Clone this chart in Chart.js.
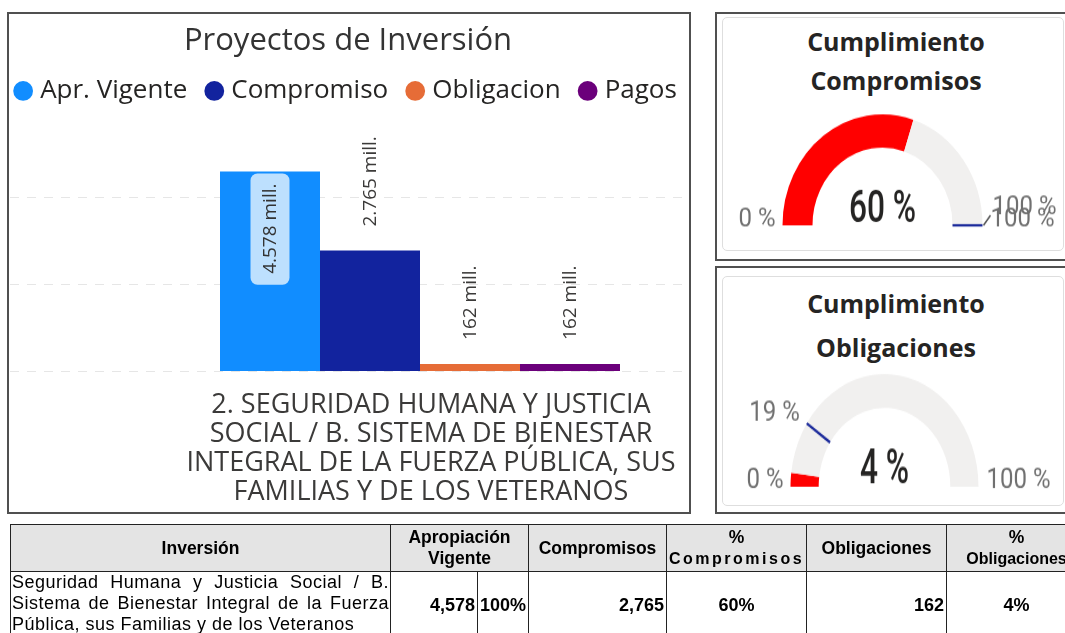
<!DOCTYPE html>
<html lang="es">
<head>
<meta charset="utf-8">
<title>Proyectos de Inversión</title>
<script src="https://cdn.jsdelivr.net/npm/chart.js@4.4.1/dist/chart.umd.min.js"></script>
<style>
  html, body { margin: 0; padding: 0; background: #fff; }
  body { position: relative; width: 1065px; height: 633px; overflow: hidden; font-family: 'Open Sans', sans-serif; }
  .marco { position: absolute; box-sizing: border-box; border: 2px solid #505050; }
  #marcoBarras { left: 7px; top: 12px; width: 684px; height: 502px; }
  #marcoComp { left: 715px; top: 12px; width: 370px; height: 249px; }
  #marcoObl { left: 715px; top: 266px; width: 370px; height: 248px; }
  .tarjeta { position: absolute; box-sizing: border-box; border: 1px solid #dedede; border-radius: 5px; background: #fff; }
  #tarjetaComp { left: 722px; top: 17px; width: 342px; height: 234px; }
  #tarjetaObl { left: 722px; top: 276px; width: 342px; height: 230px; }
  .tituloMedidor { position: absolute; left: 722px; width: 348px; text-align: center; font-weight: 700; font-size: 25px; color: #252423; }
  #tituloComp { top: 22px; line-height: 39px; }
  #tituloObl { top: 281px; line-height: 44px; }
  .caja { position: absolute; transform-origin: 0 0; }
  .caja canvas { display: block; }
  #cajaBarras { left: -32px; top: 14px; }
  #cajaComp { left: 722px; top: 80.7px; transform: scaleY(1.11); }
  #cajaObl { left: 722px; top: 338.2px; transform: scaleY(1.2); }

  #tabla { position: absolute; left: 10px; top: 524px; width: 1076px; border-collapse: collapse; table-layout: fixed; font-family: 'Liberation Sans', Arial, sans-serif; color: #000; }
  #tabla th, #tabla td { border: 1px solid #222; padding: 0 2px; }
  #tabla th { background: #e4e4e4; font-size: 17.5px; font-weight: 700; height: 46px; text-align: center; line-height: 21px; }
  #tabla td { height: 66px; font-size: 18px; font-weight: 700; vertical-align: middle; }
  #tabla td.texto { font-weight: 400; font-size: 18px; line-height: 21px; vertical-align: top; padding: 0 1px; letter-spacing: 0.5px; }
  #tabla td.texto .j { text-align: justify; text-align-last: justify; }
  #tabla td.der { text-align: right; }
  #tabla td.cen { text-align: center; }
  .espaciado { letter-spacing: 2.5px; font-size: 16px; }
</style>
</head>
<body>
<div class="marco" id="marcoBarras"></div>
<div class="caja" id="cajaBarras"><canvas id="graficoBarras" width="760" height="519"></canvas></div>

<div class="marco" id="marcoComp"></div>
<div class="tarjeta" id="tarjetaComp"></div>
<div class="tituloMedidor" id="tituloComp"></div>
<div class="caja" id="cajaComp"><canvas id="medidorComp" width="340" height="150"></canvas></div>

<div class="marco" id="marcoObl"></div>
<div class="tarjeta" id="tarjetaObl"></div>
<div class="tituloMedidor" id="tituloObl"></div>
<div class="caja" id="cajaObl"><canvas id="medidorObl" width="340" height="138"></canvas></div>

<table id="tabla">
  <colgroup>
    <col style="width:380px"><col style="width:87px"><col style="width:51px"><col style="width:138px">
    <col style="width:140px"><col style="width:140px"><col style="width:140px">
  </colgroup>
  <thead>
    <tr>
      <th>Inversión</th>
      <th colspan="2">Apropiación<br>Vigente</th>
      <th>Compromisos</th>
      <th>%<br><span class="espaciado">Compromisos</span></th>
      <th>Obligaciones</th>
      <th>%<br><span style="font-size:16px">Obligaciones</span></th>
    </tr>
  </thead>
  <tbody>
    <tr>
      <td class="texto">
        <div class="j">Seguridad Humana y Justicia Social / B.</div>
        <div class="j">Sistema de Bienestar Integral de la Fuerza</div>
        <div>Pública, sus Familias y de los Veteranos</div>
      </td>
      <td class="der" id="celApr"></td>
      <td class="cen" id="celAprPct"></td>
      <td class="der" id="celComp"></td>
      <td class="cen" id="celCompPct"></td>
      <td class="der" id="celObl"></td>
      <td class="cen" id="celOblPct"></td>
    </tr>
  </tbody>
</table>

<script>
// datos del gráfico de barras
const categoria = ['2. SEGURIDAD HUMANA Y JUSTICIA', 'SOCIAL / B. SISTEMA DE BIENESTAR', 'INTEGRAL DE LA FUERZA PÚBLICA, SUS', 'FAMILIAS Y DE LOS VETERANOS'];
const series = ['Apr. Vigente', 'Compromiso', 'Obligacion', 'Pagos'];
const valores = [4578, 2765, 162, 162];
const colores = ['#118DFF', '#12239E', '#E66C37', '#6B007B'];
const posicionEtiqueta = ['dentro', 'fuera', 'fuera', 'fuera'];
const lineasGuia = [0, 2000, 4000];
const ejeMaximo = 5900;

// datos de los medidores
const medidorTitulos = [['Cumplimiento', 'Compromisos'], ['Cumplimiento', 'Obligaciones']];
const medidorValores = [60, 4];
const medidorMetas = [100, 19];
const medidorMinimo = 0;
const medidorMaximo = 100;

Chart.defaults.font.family = "'Open Sans', sans-serif";

function etiquetaMill(v) {
    return String(v).replace(/\B(?=(\d{3})+(?!\d))/g, '.') + ' mill.';
}
function numeroTabla(v) {
    return String(v).replace(/\B(?=(\d{3})+(?!\d))/g, ',');
}

// líneas guía punteadas que cruzan todo el panel
const pluginLineas = {
    id: 'lineasGuia',
    beforeDatasetsDraw(chart) {
        const ctx = chart.ctx;
        const y = chart.scales.y;
        ctx.save();
        ctx.strokeStyle = '#e6e6e6';
        ctx.lineWidth = 1;
        ctx.setLineDash([9, 8]);
        lineasGuia.forEach(v => {
            const py = Math.round(y.getPixelForValue(v)) + 0.5;
            ctx.beginPath();
            ctx.moveTo(42, py);
            ctx.lineTo(chart.chartArea.right, py);
            ctx.stroke();
        });
        ctx.restore();
    }
};

// etiquetas verticales de cada barra
const pluginEtiquetas = {
    id: 'etiquetasBarras',
    afterDatasetsDraw(chart) {
        const ctx = chart.ctx;
        ctx.save();
        ctx.font = "19px 'Open Sans', sans-serif";
        ctx.textBaseline = 'middle';
        ctx.textAlign = 'left';
        chart.data.datasets.forEach((ds, i) => {
            const barra = chart.getDatasetMeta(i).data[0];
            const texto = etiquetaMill(ds.data[0]);
            const tw = ctx.measureText(texto).width;
            ctx.save();
            ctx.translate(barra.x, barra.y);
            ctx.rotate(-Math.PI / 2);
            if (posicionEtiqueta[i] === 'dentro') {
                ctx.fillStyle = '#BDE0FE';
                ctx.beginPath();
                ctx.roundRect(-(tw + 23), -19.5, tw + 21, 39, 7);
                ctx.fill();
                ctx.fillStyle = '#333';
                ctx.fillText(texto, -(tw + 12), 1);
            } else {
                ctx.fillStyle = '#3b3a39';
                ctx.fillText(texto, 24, 1);
            }
            ctx.restore();
        });
        ctx.restore();
    }
};

new Chart(document.getElementById('graficoBarras'), {
    type: 'bar',
    data: {
        labels: [categoria],
        datasets: series.map((nombre, i) => ({
            label: nombre,
            data: [valores[i]],
            backgroundColor: colores[i],
            borderWidth: 0,
            barPercentage: 1,
            categoryPercentage: 0.7547
        }))
    },
    options: {
        responsive: false,
        animation: false,
        events: [],
        layout: { padding: { top: 0, bottom: 6, left: 0, right: 0 } },
        plugins: {
            title: {
                display: true,
                text: 'Proyectos de Inversión',
                color: '#333',
                font: { size: 31, weight: 'normal', lineHeight: 0.9 },
                padding: { top: 13, bottom: 0 }
            },
            legend: {
                position: 'top',
                labels: {
                    usePointStyle: true,
                    pointStyle: 'circle',
                    boxWidth: 8,
                    boxHeight: 14,
                    padding: 23,
                    color: '#252423',
                    font: { size: 26 }
                }
            },
            tooltip: { enabled: false }
        },
        scales: {
            x: {
                grid: { display: false, drawTicks: false },
                border: { display: false },
                ticks: {
                    color: '#3b3a39',
                    font: { size: 27, lineHeight: '29px' },
                    padding: 20,
                    labelOffset: 11,
                    maxRotation: 0,
                    autoSkip: false
                }
            },
            y: {
                position: 'left',
                min: 0,
                max: ejeMaximo,
                grid: { display: false },
                border: { display: false },
                ticks: { display: false, stepSize: 2000 },
                afterFit(scale) { scale.width = 187; }
            },
            y2: {
                position: 'right',
                grid: { display: false },
                border: { display: false },
                ticks: { display: false },
                afterFit(scale) { scale.width = 43; }
            }
        }
    },
    plugins: [pluginLineas, pluginEtiquetas]
});

// medidores semicirculares
function pluginMedidor(indice) {
    return {
        id: 'textoMedidor' + indice,
        afterDatasetsDraw(chart) {
            const ctx = chart.ctx;
            const arco = chart.getDatasetMeta(0).data[0];
            const cx = arco.x, cy = arco.y;
            const rExt = arco.outerRadius, rInt = arco.innerRadius;
            const meta = medidorMetas[indice];
            const ang = Math.PI * (1 + (meta - medidorMinimo) / (medidorMaximo - medidorMinimo));
            const cos = Math.cos(ang), sin = Math.sin(ang);
            const fuente = "'Liberation Sans Narrow', Roboto, sans-serif";
            ctx.save();
            // marca de la meta
            ctx.strokeStyle = '#1B2A9B';
            ctx.lineWidth = 2.2;
            ctx.beginPath();
            ctx.moveTo(cx + rInt * cos, cy + rInt * sin);
            ctx.lineTo(cx + rExt * cos, cy + rExt * sin);
            ctx.stroke();

            ctx.font = '24px ' + fuente;
            ctx.fillStyle = '#707070';
            ctx.textBaseline = 'alphabetic';
            ctx.textAlign = 'right';
            ctx.fillText(medidorMinimo + ' %', cx - rExt - 7, cy + 1);
            ctx.textAlign = 'left';
            ctx.fillText(medidorMaximo + ' %', cx + rExt + 8, cy + 1);

            if (meta >= medidorMaximo) {
                ctx.strokeStyle = '#555';
                ctx.lineWidth = 1.5;
                ctx.beginPath();
                ctx.moveTo(cx + rExt + 1, cy);
                ctx.lineTo(cx + rExt + 8, cy - 9);
                ctx.stroke();
                ctx.textAlign = 'left';
                ctx.fillText(meta + ' %', cx + rExt + 10, cy - 10);
            } else {
                const px = cx + rExt * cos, py = cy + rExt * sin;
                ctx.textAlign = cos < 0 ? 'right' : 'left';
                ctx.fillText(meta + ' %', px + (cos < 0 ? -7 : 7), py - 2);
            }

            // valor central, algo más alto y estrecho
            ctx.translate(cx, cy - 3);
            ctx.scale(0.88, 1.12);
            ctx.font = '500 36px ' + fuente;
            ctx.fillStyle = '#252423';
            ctx.textAlign = 'center';
            ctx.fillText(medidorValores[indice] + ' %', 0, 0);
            ctx.restore();
        }
    };
}

function crearMedidor(id, indice, relleno) {
    const valor = medidorValores[indice];
    new Chart(document.getElementById(id), {
        type: 'doughnut',
        data: {
            labels: ['Cumplimiento', 'Restante'],
            datasets: [{
                data: [valor - medidorMinimo, medidorMaximo - valor],
                backgroundColor: ['#FF0000', '#F1F0EF'],
                borderWidth: 0
            }]
        },
        options: {
            responsive: false,
            animation: false,
            events: [],
            rotation: -90,
            circumference: 180,
            cutout: '70%',
            layout: { padding: relleno },
            plugins: { legend: { display: false }, tooltip: { enabled: false } }
        },
        plugins: [pluginMedidor(indice)]
    });
}

document.getElementById('tituloComp').innerHTML = medidorTitulos[0].join('<br>');
document.getElementById('tituloObl').innerHTML = medidorTitulos[1].join('<br>');
crearMedidor('medidorComp', 0, { top: 30, bottom: 20, left: 0, right: 19 });
crearMedidor('medidorObl', 1, { top: 30, bottom: 14, left: 0, right: 15 });

// tabla resumen
document.getElementById('celApr').textContent = numeroTabla(valores[0]);
document.getElementById('celAprPct').textContent = Math.round(valores[0] / valores[0] * 100) + '%';
document.getElementById('celComp').textContent = numeroTabla(valores[1]);
document.getElementById('celCompPct').textContent = medidorValores[0] + '%';
document.getElementById('celObl').textContent = numeroTabla(valores[2]);
document.getElementById('celOblPct').textContent = medidorValores[1] + '%';
</script>
</body>
</html>
